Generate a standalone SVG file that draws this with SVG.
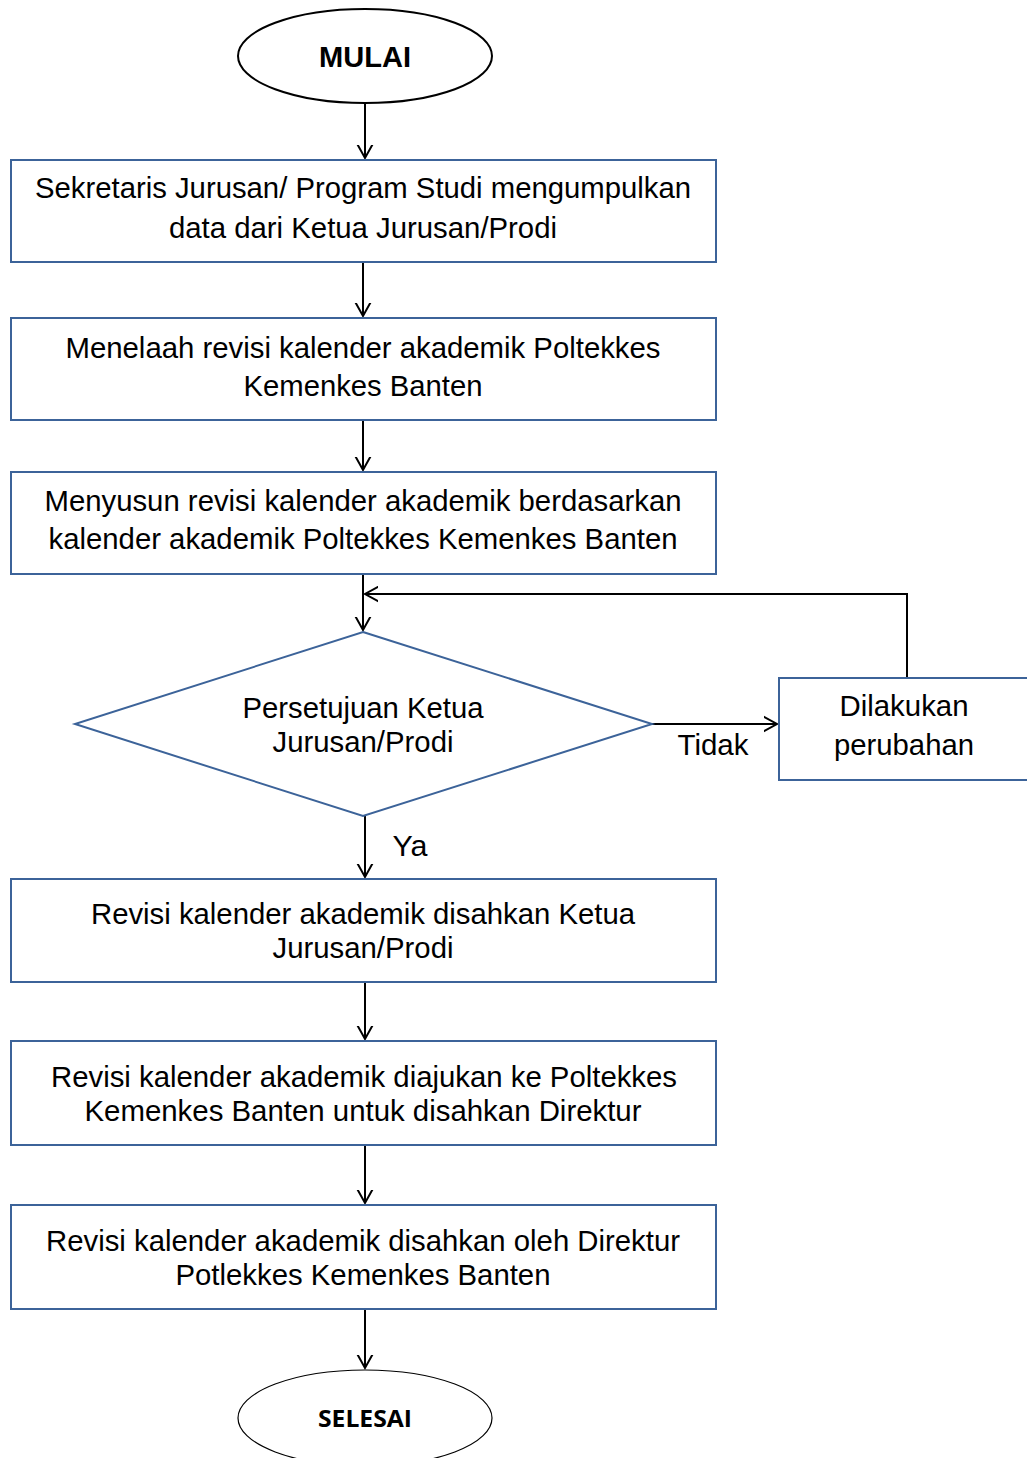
<svg xmlns="http://www.w3.org/2000/svg" width="1027" height="1458" viewBox="0 0 1027 1458">
<defs>
<marker id="arr" markerWidth="30" markerHeight="24" refX="13" refY="12" orient="auto" markerUnits="userSpaceOnUse">
<path d="M-5,2 L13,12 L-5,22" fill="none" stroke="#000" stroke-width="2"/>
</marker>
<style>
.box{fill:#fff;stroke:#3c6399;stroke-width:2}
.t{font-family:"Liberation Sans",Arial,sans-serif;font-size:29px;fill:#000;text-anchor:middle}
.c{fill:none;stroke:#000;stroke-width:2;marker-end:url(#arr)}
</style>
</defs>
<rect width="1027" height="1458" fill="#fff"/>
<g id="connectors">
<line class="c" x1="365" y1="103" x2="365" y2="158"/>
<line class="c" x1="363" y1="262" x2="363" y2="316"/>
<line class="c" x1="363" y1="420" x2="363" y2="470"/>
<line class="c" x1="363" y1="574" x2="363" y2="630"/>
<polyline class="c" points="907,678 907,594 365,594"/>
<line class="c" x1="652" y1="724" x2="777" y2="724"/>
<line class="c" x1="365" y1="816" x2="365" y2="877"/>
<line class="c" x1="365" y1="982" x2="365" y2="1039"/>
<line class="c" x1="365" y1="1145" x2="365" y2="1203"/>
<line class="c" x1="365" y1="1309" x2="365" y2="1368"/>
<text class="t" x="713" y="755" textLength="71" lengthAdjust="spacingAndGlyphs">Tidak</text>
<text class="t" x="410" y="856" textLength="35" lengthAdjust="spacingAndGlyphs">Ya</text>
</g>
<g id="mulai">
<ellipse cx="365" cy="56" rx="127" ry="47" fill="#fff" stroke="#000" stroke-width="2"/>
<text class="t" x="365" y="67" font-weight="bold" textLength="92" lengthAdjust="spacingAndGlyphs">MULAI</text>
</g>
<g id="box1">
<rect class="box" x="11" y="160" width="705" height="102"/>
<text class="t" x="363" y="198" textLength="656" lengthAdjust="spacingAndGlyphs">Sekretaris Jurusan/ Program Studi mengumpulkan</text>
<text class="t" x="363" y="238" textLength="388" lengthAdjust="spacingAndGlyphs">data dari Ketua Jurusan/Prodi</text>
</g>
<g id="box2">
<rect class="box" x="11" y="318" width="705" height="102"/>
<text class="t" x="363" y="358" textLength="595" lengthAdjust="spacingAndGlyphs">Menelaah revisi kalender akademik Poltekkes</text>
<text class="t" x="363" y="396" textLength="239" lengthAdjust="spacingAndGlyphs">Kemenkes Banten</text>
</g>
<g id="box3">
<rect class="box" x="11" y="472" width="705" height="102"/>
<text class="t" x="363" y="511" textLength="637" lengthAdjust="spacingAndGlyphs">Menyusun revisi kalender akademik berdasarkan</text>
<text class="t" x="363" y="549" textLength="629" lengthAdjust="spacingAndGlyphs">kalender akademik Poltekkes Kemenkes Banten</text>
</g>
<g id="decision">
<polygon class="box" points="363,632 652,724 363,816 75,724"/>
<text class="t" x="363" y="718" textLength="241" lengthAdjust="spacingAndGlyphs">Persetujuan Ketua</text>
<text class="t" x="363" y="752" textLength="181" lengthAdjust="spacingAndGlyphs">Jurusan/Prodi</text>
</g>
<g id="perubahan">
<rect class="box" x="779" y="678" width="260" height="102"/>
<text class="t" x="904" y="716" textLength="129" lengthAdjust="spacingAndGlyphs">Dilakukan</text>
<text class="t" x="904" y="755" textLength="140" lengthAdjust="spacingAndGlyphs">perubahan</text>
</g>
<g id="box4">
<rect class="box" x="11" y="879" width="705" height="103"/>
<text class="t" x="363" y="924" textLength="544" lengthAdjust="spacingAndGlyphs">Revisi kalender akademik disahkan Ketua</text>
<text class="t" x="363" y="958" textLength="181" lengthAdjust="spacingAndGlyphs">Jurusan/Prodi</text>
</g>
<g id="box5">
<rect class="box" x="11" y="1041" width="705" height="104"/>
<text class="t" x="364" y="1087" textLength="626" lengthAdjust="spacingAndGlyphs">Revisi kalender akademik diajukan ke Poltekkes</text>
<text class="t" x="363" y="1121" textLength="557" lengthAdjust="spacingAndGlyphs">Kemenkes Banten untuk disahkan Direktur</text>
</g>
<g id="box6">
<rect class="box" x="11" y="1205" width="705" height="104"/>
<text class="t" x="363" y="1251" textLength="634" lengthAdjust="spacingAndGlyphs">Revisi kalender akademik disahkan oleh Direktur</text>
<text class="t" x="363" y="1285" textLength="375" lengthAdjust="spacingAndGlyphs">Potlekkes Kemenkes Banten</text>
</g>
<g id="selesai">
<ellipse cx="365" cy="1418" rx="127" ry="48" fill="#fff" stroke="#000" stroke-width="1.2"/>
<text x="365" y="1427" text-anchor="middle" font-family="Open Sans, sans-serif" font-weight="bold" font-size="24" textLength="94" lengthAdjust="spacingAndGlyphs">SELESAI</text>
</g>
</svg>
